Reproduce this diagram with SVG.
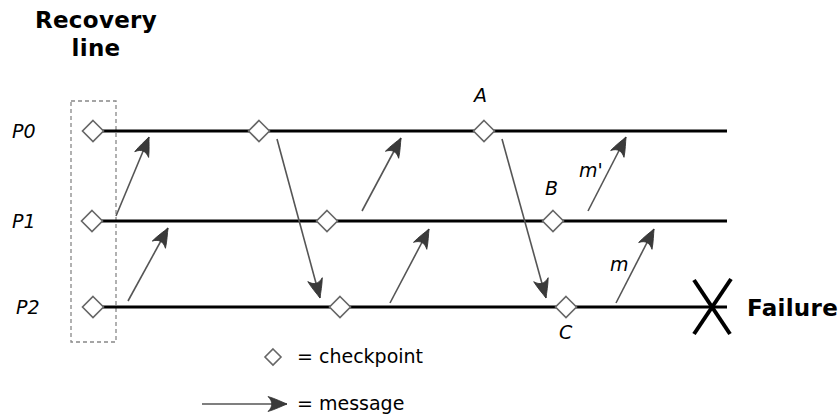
<svg xmlns="http://www.w3.org/2000/svg" width="840" height="414" viewBox="0 0 840 414">
<style>
.tl{stroke:#000;stroke-width:3;fill:none}
.msg{stroke:#555;stroke-width:1.6;fill:none;marker-end:url(#ah)}
.cp{fill:#fff;stroke:#666;stroke-width:1.6}
.lbl{font-family:"DejaVu Sans",sans-serif;font-style:italic;font-size:19px;fill:#000}
.bold{font-family:"DejaVu Sans",sans-serif;font-weight:bold;font-size:23px;letter-spacing:0.3px;fill:#000}
.leg{font-family:"DejaVu Sans",sans-serif;font-size:19px;fill:#000}
</style>
<defs>
<marker id="ah" markerUnits="userSpaceOnUse" markerWidth="24" markerHeight="18" viewBox="-21 -9 22 18" refX="0" refY="0" orient="auto">
<path d="M0,0 C-5,-2 -12,-5.5 -19,-7.5 C-14,-2.5 -14,2.5 -19,7.5 C-12,5.5 -5,2 0,0 Z" fill="#3a3a3a" stroke="#333" stroke-width="0.8"/>
</marker>
<path id="dm" d="M0,-10.5 L10.5,0 L0,10.5 L-10.5,0 Z"/>
</defs>
<rect width="840" height="414" fill="#fff"/>
<g id="title"><text class="bold" x="96" y="28" text-anchor="middle">Recovery</text><text class="bold" x="96" y="56" text-anchor="middle">line</text></g>
<g id="recovery-line"><rect x="71" y="101" width="45" height="241" fill="none" stroke="#888" stroke-width="1.3" stroke-dasharray="4,3"/></g>
<g id="timelines">
<line class="tl" x1="93" y1="131" x2="727" y2="131"/>
<line class="tl" x1="92" y1="221" x2="727" y2="221"/>
<line class="tl" x1="93" y1="307" x2="727" y2="307"/>
</g>
<g id="labels">
<text class="lbl" x="12" y="138">P0</text>
<text class="lbl" x="12" y="228">P1</text>
<text class="lbl" x="16" y="314">P2</text>
<text class="lbl" x="474" y="102">A</text>
<text class="lbl" x="545" y="195">B</text>
<text class="lbl" x="559" y="339">C</text>
<text class="lbl" x="579" y="177">m'</text>
<text class="lbl" x="610" y="271">m</text>
</g>
<g id="connectors">
<line class="msg" x1="116" y1="216" x2="149" y2="137"/>
<line class="msg" x1="128" y1="301" x2="168" y2="228"/>
<line class="msg" x1="277" y1="139" x2="320" y2="298"/>
<line class="msg" x1="362" y1="211" x2="401" y2="138"/>
<line class="msg" x1="390" y1="303" x2="429" y2="229"/>
<line class="msg" x1="502" y1="139" x2="546" y2="298"/>
<line class="msg" x1="588" y1="211" x2="626" y2="137"/>
<line class="msg" x1="616" y1="303" x2="654" y2="229"/>
</g>
<g id="checkpoints">
<use href="#dm" class="cp" x="93" y="131"/>
<use href="#dm" class="cp" x="259" y="131"/>
<use href="#dm" class="cp" x="484" y="131"/>
<use href="#dm" class="cp" x="92" y="221"/>
<use href="#dm" class="cp" x="327" y="221"/>
<use href="#dm" class="cp" x="553" y="221"/>
<use href="#dm" class="cp" x="93" y="307"/>
<use href="#dm" class="cp" x="340" y="307"/>
<use href="#dm" class="cp" x="566" y="307"/>
</g>
<g id="failure">
<line x1="694" y1="280" x2="730" y2="334" stroke="#000" stroke-width="4"/>
<line x1="731" y1="279" x2="694" y2="334" stroke="#000" stroke-width="4"/>
<text class="bold" x="747" y="316">Failure</text>
</g>
<g id="legend">
<path d="M273,349 L281,357 L273,365 L265,357 Z" class="cp"/>
<text class="leg" x="297" y="363">= checkpoint</text>
<line class="msg" x1="202" y1="404" x2="287" y2="404"/>
<text class="leg" x="297" y="410">= message</text>
</g>
</svg>
